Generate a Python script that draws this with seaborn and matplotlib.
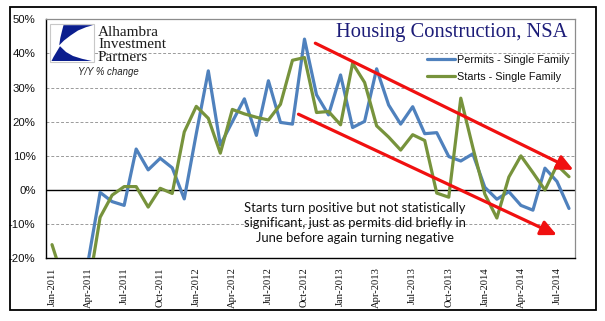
import numpy as np
import pandas as pd
import matplotlib
matplotlib.use("Agg")
import matplotlib.pyplot as plt
import seaborn as sns
from matplotlib.patches import Rectangle, Polygon, FancyArrowPatch
from matplotlib.lines import Line2D

# ---- data: year-over-year % change, single family, not seasonally adjusted ----
months = pd.date_range("2011-01-01", "2014-08-01", freq="MS")
month_labels = [d.strftime("%b-%Y") for d in months]

permits = [
    -30.0, -28.0, -30.0, -21.0, -0.7, -3.4, -4.5, 12.0, 5.9, 9.3, 6.5, -2.6,   # 2011
    16.5, 34.9, 13.2, 20.0, 26.7, 16.0, 32.0, 19.8, 19.3, 44.2, 27.9, 22.0,    # 2012
    33.7, 18.3, 20.1, 35.5, 24.9, 19.3, 24.4, 16.5, 16.8, 9.8, 8.5, 10.6,      # 2013
    0.8, -2.7, -0.5, -4.5, -5.9, 6.4, 2.5, -5.4,                               # 2014
]
starts = [
    -16.0, -27.0, -31.0, -29.5, -8.0, -1.5, 1.0, 1.0, -5.0, 0.5, -1.0, 17.0,   # 2011
    24.5, 21.0, 10.8, 23.6, 22.3, 21.3, 20.5, 25.1, 38.0, 38.8, 22.7, 23.0,    # 2012
    19.1, 37.1, 31.5, 18.8, 15.5, 11.7, 16.2, 14.5, -0.9, -2.1, 26.9, 12.5,    # 2013
    -1.2, -8.2, 3.8, 10.0, 5.1, 0.0, 7.3, 3.9,                                 # 2014
]

series_names = ["Permits - Single Family", "Starts - Single Family"]
y_ticks = [-20, -10, 0, 10, 20, 30, 40, 50]

# downward trend channel drawn over the series: (month index, %) endpoints
channel_upper = [(21.9, 43.0), (43.37, 5.9)]
channel_lower = [(20.5, 22.2), (41.99, -13.2)]

note = ("Starts turn positive but not statistically\n"
        "significant, just as permits did briefly in\n"
        "June before again turning negative")

# ---- styling ----
BLUE = "#4F81BD"
GREEN = "#77933C"
RED = "#F01010"
NAVY = "#1C1C78"

W, H = 605, 321
sns.set_style("white")
plt.rcParams["font.family"] = ["Liberation Sans", "DejaVu Sans"]

fig = plt.figure(figsize=(W / 100, H / 100), dpi=100)
fig.patch.set_facecolor("white")

# plot area in pixel terms
left, right, top, bottom = 46, 575, 19.3, 258.3
ax = fig.add_axes([left / W, 1 - bottom / H, (right - left) / W, (bottom - top) / H])

df = pd.DataFrame({
    "idx": np.arange(len(months)),
    "month": month_labels,
    series_names[0]: permits,
    series_names[1]: starts,
})
long = df.melt(id_vars=["idx", "month"], value_vars=series_names,
               var_name="series", value_name="pct")

sns.lineplot(data=long, x="idx", y="pct", hue="series",
             palette={series_names[0]: BLUE, series_names[1]: GREEN},
             linewidth=2.3, ax=ax, legend=False, zorder=3)

ax.set_xlim(-0.5, len(months) - 0.5)
ax.set_ylim(-20, 50)
ax.set_xlabel("")
ax.set_ylabel("")

# y axis
ax.set_yticks(y_ticks)
ax.set_yticklabels([f"{v}%" for v in y_ticks], fontsize=8.2, color="#111111")
for v in y_ticks:
    if v in (-20, 0, 50):
        continue
    ax.axhline(v, color="#9A9A9A", lw=0.7, ls=(0, (3, 2)), zorder=1)
ax.axhline(0, color="black", lw=1.0, zorder=2)

# x axis: labels every quarter at month centres, ticks at month boundaries
label_idx = [i for i, d in enumerate(months) if d.month in (1, 4, 7, 10)]
ax.set_xticks(label_idx)
ax.set_xticklabels([month_labels[i] for i in label_idx], rotation=90,
                   fontsize=7.6, family=["Liberation Serif"], color="#111111")
ax.set_xticks(np.arange(-0.5, len(months), 1.0), minor=True)
ax.tick_params(axis="x", which="major", length=0, pad=6.5)
ax.tick_params(axis="x", which="minor", length=4.5, width=0.9, color="black",
               direction="out")
ax.tick_params(axis="y", which="major", length=4.5, width=0.9, color="black",
               direction="out", pad=3)

for s in ("left", "bottom"):
    ax.spines[s].set_color("black")
    ax.spines[s].set_linewidth(1.0)
for s in ("top", "right"):
    ax.spines[s].set_color("#8C8C8C")
    ax.spines[s].set_linewidth(0.9)
ax.grid(False)

# trend channel arrows
for (x0, y0), (x1, y1) in (channel_upper, channel_lower):
    arr = FancyArrowPatch((x0, y0), (x1, y1),
                          arrowstyle="-|>,head_length=0.95,head_width=0.45",
                          mutation_scale=10, color=RED, lw=2.3,
                          shrinkA=0, shrinkB=0, zorder=4, clip_on=False)
    ax.add_patch(arr)

# legend
handles = [Line2D([], [], color=BLUE, lw=2.3), Line2D([], [], color=GREEN, lw=2.3)]
leg = ax.legend(handles, series_names, loc="upper left",
                bbox_to_anchor=(427 / W, 1 - 55.0 / H),
                bbox_transform=fig.transFigure, frameon=False,
                fontsize=7.8, handlelength=2.6, handletextpad=0.15,
                labelspacing=0.62, borderpad=0, borderaxespad=0)
for t in leg.get_texts():
    t.set_color("#111111")

# overlay in pixel coordinates for title, note, logo and outer frame
ov = fig.add_axes([0, 0, 1, 1], zorder=5)
ov.set_xlim(0, W)
ov.set_ylim(H, 0)
ov.axis("off")
ov.patch.set_alpha(0)

ov.text(567, 37, "Housing Construction, NSA", ha="right", va="baseline",
        fontsize=14.8, family=["Liberation Serif"], color=NAVY)

ov.text(355, 223, note, ha="center", va="center", fontsize=9.4,
        family=["Lato"], color="#111111", linespacing=1.3)

# company mark
ov.add_patch(Rectangle((50, 24), 44, 38, facecolor="white",
                       edgecolor="#C8C8C8", lw=0.8))
top_shape = [(63.5, 25.2), (93.0, 25.2), (86, 27.2), (78, 30.5), (70.5, 35.5),
             (64, 40.5), (59.2, 45.3), (60.3, 38), (62, 31)]
bot_shape = [(51.5, 61), (91.8, 61), (82, 58.8), (73, 56), (66, 52),
             (60, 46.2), (56.5, 52), (53.5, 57)]
ov.add_patch(Polygon(top_shape, closed=True, facecolor="#0B1E8E", edgecolor="none"))
ov.add_patch(Polygon(bot_shape, closed=True, facecolor="#0B1E8E", edgecolor="none"))
ov.text(98, 26.0, "Alhambra\nInvestment\nPartners", ha="left", va="top",
        fontsize=11.0, family=["Liberation Serif"], color="#1A1A1A",
        linespacing=0.93)
ov.text(108, 72, "Y/Y % change", ha="center", va="center", fontsize=6.9,
        style="italic", color="#222222")

# outer chart frame
ov.add_patch(Rectangle((9.5, 7), 586.5, 303, facecolor="none",
                       edgecolor="black", lw=1.3))

fig.savefig("out.png", dpi=100)
